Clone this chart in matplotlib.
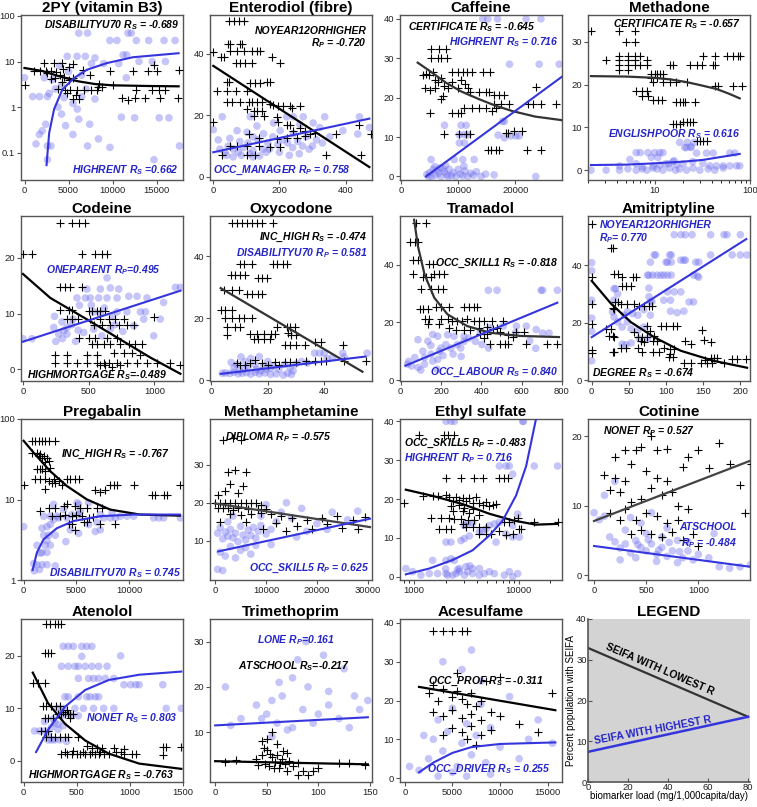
import matplotlib
matplotlib.use("Agg")
import matplotlib.pyplot as plt
from matplotlib.ticker import FormatStrFormatter, NullFormatter, NullLocator

plt.rcParams['font.family'] = ['Liberation Sans', 'DejaVu Sans']
plt.rcParams['mathtext.fontset'] = 'custom'
plt.rcParams['mathtext.it'] = 'Liberation Sans:bold:italic'
plt.rcParams['mathtext.rm'] = 'Liberation Sans:bold:italic'
plt.rcParams['mathtext.bf'] = 'Liberation Sans:bold:italic'

BLUE_DOT = '#6e6ef0'
BLUE_LINE = '#3535dd'
BLUE_TXT = '#2424c8'

# ---------------- data (x, y) ----------------
# 2PY (vitamin B3)
py2_blue = [(6160, 42), (7160, 42), (11750, 42), (12130, 42), (12700, 29), (14100, 29), (15850, 29), (17100, 29),
            (9700, 29), (10500, 29), (4850, 13), (5970, 13), (6900, 13), (8000, 12), (11200, 14), (11600, 14),
            (13000, 10), (14500, 10), (16000, 10), (10700, 9), (7600, 9), (9000, 9), (11560, 4.4), (0, 4.4),
            (2240, 4.4), (5000, 6), (6500, 5), (4200, 3), (3500, 2.5), (2800, 2), (930, 1.7), (1700, 1.7),
            (2600, 1.7), (4500, 1.6), (5500, 1.2), (6000, 0.9), (3800, 1.0), (4200, 0.7), (8000, 1.5), (7000, 2.5),
            (2400, 0.42), (1680, 0.25), (1300, 0.155), (2600, 0.14), (3000, 0.14), (4660, 0.39), (6160, 0.54),
            (7400, 0.42), (8400, 0.2), (5500, 0.25), (7160, 0.14), (9700, 0.13), (12500, 0.58), (15300, 0.58),
            (16400, 0.58), (17600, 0.14), (14700, 0.07), (2600, 0.07), (11000, 0.6), (6500, 1.7), (3200, 4),
            (4000, 8), (2000, 0.3)]
py2_black = [(0, 3.1), (1100, 6.1), (1800, 6.1), (2400, 6.1), (3000, 6.1), (3600, 5.8), (2200, 9.2), (3300, 9.2),
             (4200, 9.5), (5500, 9), (4400, 7), (5000, 7.5), (4000, 5), (4500, 4.5), (3500, 4.3), (5000, 4),
             (5500, 4.3), (4200, 3.5), (3800, 2.5), (4600, 2.4), (5200, 2.4), (6000, 2.4), (6700, 2.4), (7500, 2.4),
             (8200, 2.4), (4800, 2), (5800, 1.8), (6200, 1.5), (5500, 1.5), (6600, 6.6), (7400, 5), (8400, 2.8),
             (8800, 2.8), (3000, 4.2), (2600, 5.5), (9700, 6.1), (12300, 6.1), (14000, 6.1), (15100, 6.1),
             (17500, 6.6), (14500, 2.4), (15300, 2.4), (16000, 2.4), (12700, 2.4), (12500, 1.6), (11100, 1.6),
             (11700, 1.4), (13700, 1.6), (15400, 1.6), (17400, 1.6), (10000, 3), (8500, 3.2), (14700, 8.5)]
py2_kfit = [(0, 7.2), (2000, 6.2), (4000, 4.7), (6000, 3.7), (8000, 3.2), (10000, 3.0), (14000, 2.9), (17500, 2.85)]
py2_bfit = [(2500, 0.053), (2800, 0.27), (3360, 0.9), (4290, 2.4), (5600, 4.3), (7090, 6.6), (9330, 9.2),
            (12300, 12.4), (17500, 15.2)]

# Enterodiol (fibre)
ent_blue = [(0, 15.3), (27, 19.5), (112, 19.5), (222, 19.5), (242, 19.5), (272, 19.5), (337, 19.5), (442, 19.5),
            (472, 16), (437, 13.9), (302, 17.5), (322, 16), (262, 17), (182, 17.5), (132, 16.5), (72, 15),
            (102, 14.5), (152, 14), (202, 15), (242, 14), (282, 13), (312, 12), (352, 13), (392, 15), (20, 9),
            (35, 8), (45, 10), (60, 9), (75, 8), (90, 9.5), (105, 11), (120, 8.5), (135, 12), (150, 9), (165, 11),
            (180, 13), (195, 10.5), (210, 12), (225, 11), (240, 9.5), (255, 11.5), (270, 10), (290, 9), (40, 7),
            (60, 6.5), (85, 7), (110, 7.5), (140, 6.8), (160, 8), (200, 8), (230, 7), (15, 12), (50, 12.5),
            (80, 11.5), (120, 13), (170, 9), (300, 10), (260, 7.5), (330, 11), (120, 6.5)]
ent_black = [(47, 50.4), (62, 50.4), (77, 50.4), (92, 50.4), (44, 43.2), (50, 43.2), (82, 43.2), (88, 43.2),
             (0, 40.5), (22, 38.9), (32, 38.9), (52, 40.8), (72, 40.8), (92, 40.8), (117, 40.8), (132, 40.8),
             (142, 40.8), (177, 38.9), (70, 37), (82, 37), (97, 37), (117, 37), (202, 37), (12, 28), (42, 28),
             (70, 28), (102, 28), (40, 30.9), (47, 30.9), (112, 30.4), (127, 30.4), (142, 30.4), (162, 30.9),
             (172, 30.9), (42, 24.3), (57, 24.3), (82, 24.3), (107, 24.3), (117, 24.3), (132, 24.3), (147, 24.3),
             (172, 23.5), (182, 23.2), (197, 23), (212, 23), (232, 23), (262, 23), (237, 22.3), (102, 22),
             (122, 21.5), (132, 21.5), (147, 21.5), (122, 19.7), (152, 19.7), (192, 19.4), (197, 17.8), (222, 16.8),
             (232, 16.8), (242, 14.9), (262, 16), (277, 14.9), (292, 13.9), (307, 14.2), (372, 13.9), (442, 16.8),
             (477, 13.9), (0, 17.8), (107, 13.9), (137, 12.5), (192, 12.3), (52, 10), (72, 10), (102, 10),
             (137, 10), (172, 9.6), (202, 9.6), (27, 7), (102, 7), (127, 7), (342, 7), (447, 7), (222, 12.5),
             (252, 12.5), (277, 13.2)]
ent_kfit = [(0, 36), (472, 3.2)]
ent_bfit = [(0, 8), (472, 18.9)]

# Caffeine
caf_blue = [(14300, 40), (15200, 40), (16900, 40), (21900, 40), (24500, 40), (19000, 28.5), (24200, 28.5),
            (27700, 28.5), (7600, 13), (10500, 13), (11400, 13), (10200, 10.6), (11100, 10.6), (11700, 10.6),
            (10200, 8.5), (11100, 8.5), (17800, 14), (18100, 14), (18100, 9.8), (19200, 10.3), (20100, 10.3),
            (20700, 10.3), (17000, 10.5), (5250, 4.3), (9300, 4.3), (10800, 4.3), (12800, 4.3), (23600, 0),
            (16300, 0.4), (4500, 0.5), (5000, 1), (5300, 0), (5600, 1.8), (6000, 0.3), (6300, 1.5), (6600, 0.8),
            (7000, 0), (7300, 2), (7600, 1.2), (8000, 0.5), (8400, 1.8), (8800, 0.2), (9200, 1), (9600, 0),
            (10000, 1.8), (10400, 0.6), (10800, 0.2), (11200, 1.4), (11700, 0), (12200, 0.8), (12700, 0.3),
            (13200, 1.2), (14000, 0), (14800, 0.6), (6800, 2.2), (8200, 0), (11000, 2.6), (4800, 0), (7800, 2.8),
            (5900, 2.5)]
caf_black = [(3790, 25.8), (4960, 25.8), (5250, 32.3), (6700, 32.3), (7870, 32.3), (5250, 30), (6400, 30),
             (7000, 30), (8100, 30), (4400, 26), (5500, 26.5), (6000, 24.5), (6500, 24), (7000, 25), (7600, 23),
             (8200, 22.5), (9000, 26.5), (10000, 26.5), (10800, 26.5), (11500, 26.5), (12500, 26.5), (14400, 26.5),
             (15500, 26.5), (4100, 22.5), (5000, 22), (6000, 22.5), (7000, 19.6), (7300, 20.5), (9000, 24),
             (10500, 24.5), (11200, 23.6), (11800, 22.5), (9900, 22.5), (12000, 21.5), (13700, 21.5), (14800, 21.5),
             (15400, 21.5), (16300, 20.7), (17200, 20.7), (18100, 20.7), (9000, 16), (9900, 16), (10500, 16),
             (5000, 16), (11000, 17.3), (12500, 17.3), (13700, 17.3), (14900, 17.3), (16000, 16.6), (16700, 17.3),
             (17500, 18.3), (18900, 18.3), (22200, 18.3), (23100, 18.3), (24500, 18.3), (27100, 18.3), (7600, 10.8),
             (10200, 10.8), (11400, 10.8), (12000, 10.8), (18300, 11), (18700, 11), (19800, 11.5), (21200, 11.5),
             (15200, 6.8), (15800, 6.8), (16600, 6.8), (17100, 6.8), (22000, 6.8), (24500, 6.8), (23600, 22.7),
             (16300, 18.3)]
caf_kfit = [(2900, 28.9), (5000, 26.8), (7870, 23.8), (10500, 21.6), (13700, 19.6), (16500, 18), (19500, 16.6),
            (23500, 15.2), (28160, 14.3)]
caf_bfit = [(4370, 0), (28160, 25.3)]

# Methadone
met_blue = [(2.15, 0), (3.1, 0), (4.28, 0), (5.24, 0.3), (6.41, 0), (7.42, 0.3), (8.3, 0), (9.6, 0.5), (10.6, 0.3),
            (12.2, 0), (14.4, 0.5), (16.6, 0), (18.3, 0.3), (21.6, 0), (25.3, 0.5), (29.8, 0), (36.4, 0.3),
            (42.8, 0), (52.4, 0.5), (4.28, 1), (6.41, 1.5), (7.42, 0.8), (9.6, 1), (11.3, 1.2), (13, 1.5),
            (15.6, 2), (17, 1.3), (5.5, 2.5), (6.4, 4.1), (7.06, 4.1), (8.51, 4.1), (10, 4.1), (11.3, 4.1),
            (12.2, 4.1), (9.22, 3), (10.8, 3), (20.7, 5.3), (21.6, 5.3), (24, 5.3), (18.3, 6.5), (22, 6.5),
            (26, 6.5), (24, 5.5), (27.5, 4), (35, 4), (41.1, 4), (61.5, 4), (69.4, 4), (44.5, 1), (52.4, 1),
            (61.5, 1), (72.3, 1), (78, 1), (14, 1.5), (16, 2.2), (19.9, 1.5), (25, 2), (32, 1.6), (38, 1)]
met_black = [(2.15, 32.5), (4.21, 32.5), (6.16, 32.5), (5.03, 30), (6.16, 30), (3.1, 25.7), (4.21, 26.6),
             (4.21, 25.7), (5.24, 26.6), (6.16, 26.6), (7.06, 26.6), (5.24, 25.7), (6.16, 25.7), (8.3, 25.7),
             (4.21, 24.5), (5.24, 24.5), (6.16, 24.5), (7.06, 24.5), (8.3, 24.5), (4.21, 23.5), (5.24, 23.5),
             (9.22, 22.5), (10, 22.5), (10.6, 22.5), (11.3, 22.5), (12.2, 22.5), (9.22, 21.6), (10.6, 21.6),
             (12.2, 21.6), (9.6, 20.7), (12.2, 20.7), (14.4, 20.7), (16.6, 20.7), (6.41, 18.6), (7.42, 18.6),
             (8.3, 18.6), (7.42, 17.3), (8.51, 17.3), (9.6, 16.5), (10.8, 16.5), (11.8, 16.5), (14.4, 24.5),
             (15.6, 24.5), (16.9, 16), (18.3, 16), (19.9, 16), (20.7, 16), (26.3, 16), (23.4, 24.5), (27.5, 24.5),
             (31, 24.5), (32.3, 26.6), (42.8, 26.6), (41.1, 24.5), (42.8, 24.5), (42.8, 19.6), (46.4, 19.6),
             (56.8, 26.6), (66.7, 26.6), (75.3, 26.6), (78.4, 26.6), (66.7, 19.6), (81.6, 19.6), (15.6, 10.8),
             (16.9, 10.8), (18.3, 10.8), (19.9, 11.2), (21.6, 11.2), (23.4, 11.2), (25.3, 11.2), (27.5, 6.9),
             (29.8, 6.9), (32.3, 6.9), (35, 6.9), (21.6, 20.7)]
met_kfit = [(2.15, 22), (5, 21.9), (10, 21.6), (15, 21.2), (21.6, 20.6), (30, 19.9), (44.5, 19), (60, 17.9),
            (78, 16.8)]
met_bfit = [(2.15, 1.2), (5, 1.3), (10, 1.6), (20, 2), (32, 2.4), (50, 3.1), (78, 3.8)]

# Codeine
cod_blue = [(0, 5.5), (69, 5.5), (234, 7.5), (272, 6.3), (310, 6.9), (335, 7.5), (373, 8), (411, 12.8),
            (475, 12.8), (513, 12.8), (576, 12.8), (640, 12.8), (716, 12.8), (487, 14.4), (589, 14.4), (665, 14.6),
            (729, 14.4), (805, 13.1), (868, 13.1), (944, 12.8), (1160, 14.7), (1198, 14.7), (640, 16.4),
            (538, 10.3), (589, 10), (716, 10.3), (792, 10.3), (894, 10.3), (932, 10.3), (335, 6.3), (462, 6.6),
            (538, 7.2), (665, 7.2), (843, 7.8), (919, 9), (1045, 9), (995, 6), (297, 8.5), (380, 9), (420, 7),
            (600, 6), (700, 8), (760, 6.8), (430, 11.5), (520, 11.5), (620, 11), (680, 9.5), (1070, 12), (250, 5),
            (300, 5.5), (400, 5), (240, 9.5)]
cod_black = [(284, 26.3), (373, 26.3), (424, 26.3), (475, 26.3), (0, 20.7), (69, 20.7), (449, 20.7), (551, 20.7),
             (602, 20.7), (640, 20.7), (279, 14.7), (322, 14.7), (360, 14.7), (449, 14.7), (284, 10.7), (348, 10.7),
             (373, 10.7), (500, 10.5), (526, 10.5), (563, 10.5), (589, 10.5), (627, 10.5), (335, 9.1), (373, 9.1),
             (416, 9.1), (513, 9), (589, 9), (652, 9), (703, 9), (767, 9), (995, 9.4), (538, 8), (602, 8), (665, 8),
             (729, 8), (792, 8), (843, 7.9), (429, 5.7), (500, 5.7), (551, 5.7), (640, 5.7), (716, 5.7), (525, 4.5),
             (563, 4.5), (614, 4.5), (665, 4.5), (741, 4.5), (805, 4.5), (856, 4.5), (906, 4.5), (246, 2.6),
             (335, 2.6), (487, 2.6), (563, 2.6), (690, 3), (767, 3), (830, 3), (894, 2.6), (246, 1.2), (335, 1.2),
             (411, 1.2), (487, 1.2), (563, 1.2), (614, 1.2), (652, 1.2), (716, 1.2), (792, 1.2), (868, 1.2),
             (944, 1.2), (1020, 1.2), (1122, 1.2), (1198, 0.7), (589, 0.8), (627, 0.7), (680, 0.5), (740, 0.8)]
cod_kfit = [(0, 17.1), (208, 12.8), (462, 9.3), (716, 5.7), (970, 2.1), (1198, -0.8)]
cod_bfit = [(0, 4.95), (1198, 14.1)]

# Oxycodone
oxy_blue = [(3.9, 2.2), (5, 2.3), (6.5, 2.1), (8, 2.5), (9.5, 2), (11, 2.2), (12.5, 2.4), (14, 1.9), (15.5, 2.5),
            (17, 2), (19, 2.3), (21, 1.8), (23, 2), (25.5, 1.6), (27, 2.2), (28.4, 1.8), (7, 5.7), (9, 5),
            (10.5, 7.5), (12, 6), (14, 7), (15.5, 5), (17, 7.6), (18.5, 4.5), (20, 6), (8, 4), (11.5, 3.5),
            (13, 4.2), (16, 3.5), (19.5, 3.5), (22, 4.5), (24, 3.5), (26, 5), (28, 4), (30, 5.2), (32, 6),
            (34, 5.5), (36.6, 8.7), (38.4, 8.7), (40, 8.7), (46.6, 8.7), (55.3, 8.7), (47.1, 7.4), (41, 7),
            (43, 7.3), (10, 3), (17.5, 3), (21, 3.8), (29, 3)]
oxy_black = [(7.4, 50.7), (9, 50.7), (10.8, 50.7), (12.5, 50.7), (14.3, 50.7), (16.1, 50.7), (17.8, 50.7),
             (22, 50.7), (10.3, 37.6), (11.5, 37.6), (14.4, 37.6), (21.8, 37.6), (23.2, 37.6), (25.3, 37.6),
             (26.7, 37.6), (6.8, 34), (8.5, 34), (10.3, 34), (12, 34), (16.7, 33), (17.9, 33), (19.6, 33),
             (4.4, 29), (7.4, 29), (9.7, 29), (12.6, 27.8), (14.4, 27.8), (16.7, 27.8), (17.9, 27.8), (3.3, 22.6),
             (5, 22.6), (7.4, 22.6), (5, 19.9), (7.4, 19.9), (9.7, 19.9), (11.5, 19.9), (14.4, 19.9), (5.6, 17),
             (8.5, 17), (10.3, 17), (5.6, 14.5), (13.8, 15), (16.1, 15), (18.5, 15), (21, 15), (22.4, 15),
             (15, 13.4), (16.7, 13.4), (18.5, 13.4), (20.8, 13.4), (23.4, 17.2), (26.7, 17.2), (27.8, 17.2),
             (29.6, 17.2), (27.2, 15.2), (28.4, 14.7), (30.2, 14.7), (26.1, 11.2), (27.8, 11.2), (30.2, 11.2),
             (33.1, 11.2), (36.6, 12.3), (39, 12.3), (46.6, 11.2), (9.1, 5.5), (13.8, 5.5), (17.9, 5.5),
             (22.6, 5.7), (26.1, 5.7), (27.8, 5.7), (30.2, 5.7), (33.7, 6), (36.6, 6), (39, 6), (40.7, 6),
             (47.1, 6.3), (54.7, 6.3), (10.3, 4.8), (12, 4.8), (15.5, 6.5), (20, 5), (24, 5)]
oxy_kfit = [(3.3, 29.7), (53.6, 2.7)]
oxy_bfit = [(3.3, 2), (54.7, 7.6)]

# Tramadol
tra_blue = [(34, 5.5), (54, 4.9), (86, 4.4), (119, 5.5), (70, 7.8), (119, 7.8), (151, 9), (159, 6.6), (184, 7.2),
            (192, 10), (200, 11.1), (224, 12.3), (249, 11.1), (281, 12.3), (298, 11.1), (314, 13.4), (338, 14.5),
            (371, 13.4), (403, 12.3), (436, 11.1), (184, 15.2), (233, 15.7), (265, 15.2), (314, 15.2), (395, 16.7),
            (444, 18.1), (509, 18.7), (574, 18.7), (623, 18.7), (672, 17.5), (704, 16.3), (736, 16.3), (86, 14),
            (135, 13.5), (159, 15.8), (435, 31.1), (478, 31.1), (696, 31.1), (704, 31.1), (777, 31.1), (570, 16.4),
            (640, 13.6), (670, 11), (150, 12), (210, 8.5), (260, 9), (300, 8.2), (110, 10), (40, 6.5), (180, 3.8),
            (100, 3.5)]
tra_black = [(78, 54.4), (127, 54.4), (46, 47.8), (70, 47.8), (86, 47.8), (62, 41.7), (86, 41.7), (143, 40.2),
             (159, 40.2), (111, 35.6), (127, 35.6), (151, 35.6), (167, 36.8), (192, 36.8), (216, 36.8), (62, 36.8),
             (102, 31.7), (151, 31.7), (184, 31.7), (208, 31.7), (94, 24.5), (111, 24.5), (135, 24.5), (176, 25.3),
             (200, 25.3), (241, 25.3), (314, 25.3), (338, 25.3), (364, 25.3), (379, 25.3), (119, 21), (143, 21),
             (200, 21), (233, 21), (257, 20.5), (281, 20.5), (306, 20.5), (330, 21), (362, 20.5), (387, 20.5),
             (411, 20.5), (452, 20.5), (509, 20.5), (135, 19.3), (192, 19.3), (241, 18), (273, 17.2), (314, 17.2),
             (346, 17.2), (387, 18), (428, 18.5), (460, 17.7), (476, 18), (395, 15.9), (428, 15.9), (411, 14.7),
             (494, 16.6), (533, 15.5), (558, 14.9), (574, 16.6), (614, 16.6), (444, 12.6), (494, 12.4), (517, 12.4),
             (533, 12.4), (623, 12.4), (728, 12.6), (777, 12.6)]
tra_kfit = [(67, 55.5), (86, 46.3), (119, 36.5), (167, 28.5), (232, 22.8), (330, 18.7), (444, 16.4), (590, 15.3),
            (785, 14.9)]
tra_bfit = [(24, 5), (777, 26.8)]

# Amitriptyline
ami_blue = [(0, 40.8), (0, 38), (0, 27.8), (0, 21.6), (0, 17), (0, 6.8), (30, 31.8), (32, 31.8), (35, 30),
            (30, 27.8), (28, 23.8), (30, 22), (44, 22.6), (48, 23.8), (35, 20.3), (41, 18.5), (48, 20.3),
            (55, 23.2), (62, 22.6), (70, 24.5), (53, 17.9), (62, 17.3), (70, 18.5), (64, 14.5), (75, 14.5),
            (41, 12.6), (46, 12.4), (53, 13), (79, 22.6), (79, 27.3), (77, 32), (75, 36.5), (77, 36.5), (82, 36.5),
            (88, 36.5), (93, 36.5), (97, 36.5), (102, 36.5), (107, 36.5), (79, 41), (84, 43.5), (86, 43.5),
            (100, 41), (102, 41), (107, 41), (120, 41.7), (124, 41.7), (126, 41.7), (105, 43.5), (107, 43.5),
            (111, 50.5), (120, 50.5), (126, 50.5), (135, 50.5), (160, 50.5), (178, 50.5), (182, 50.5), (200, 50.5),
            (160, 43.5), (189, 43.5), (200, 43.5), (209, 43.5), (140, 41), (144, 41), (102, 30.7), (111, 30.7),
            (120, 30.7), (106, 24), (115, 23.5), (124, 24), (97, 27.8), (106, 27.8), (77, 29), (81, 27.3),
            (137, 36.5), (142, 36.2), (144, 35.8), (131, 27.2), (137, 27.2)]
ami_black = [(0, 54.4), (26, 45.9), (28, 45.9), (30, 36.9), (35, 36.9), (41, 36), (55, 36), (59, 36), (0, 36),
             (0, 26.4), (32, 27.2), (35, 27.2), (41, 32.6), (46, 32.6), (53, 32.6), (39, 26.4), (48, 26.4),
             (57, 26.4), (64, 25.7), (70, 25.7), (77, 25.7), (81, 25.7), (28, 25), (30, 24.6), (0, 19.4),
             (19, 17.9), (26, 17.9), (23, 15.5), (28, 15.5), (30, 15), (28, 9.7), (30, 9.7), (39, 11.4), (46, 11.4),
             (57, 16.8), (62, 15), (68, 15), (75, 15), (75, 19), (79, 17.3), (84, 15.5), (93, 19), (100, 19),
             (109, 19), (115, 19), (82, 13.8), (88, 13.8), (97, 11.4), (106, 10.8), (111, 10.8), (62, 11.4),
             (68, 9.7), (82, 9.7), (66, 13.8), (70, 13.2), (126, 13.8), (133, 12.5), (151, 14), (160, 13.4),
             (149, 17.5), (104, 8), (109, 8), (106, 9.2), (124, 6.2), (133, 6.2), (153, 7), (160, 7.9), (164, 7.9),
             (169, 7.9), (189, 7.3), (196, 7.3), (207, 7.3), (147, 6.2), (155, 6.2), (162, 6.2), (178, 6.2),
             (0, 10.5), (0, 9.4), (91, 9.7)]
ami_kfit = [(0, 34.5), (26, 26.6), (52.7, 20.2), (84, 15), (119.6, 10.3), (164, 6.8), (209, 4.4)]
ami_bfit = [(0, 15), (208, 49)]

# Pregabalin
pre_blue = [(0, 4.6), (950, 1.6), (1260, 1.55), (1740, 1.55), (2210, 1.55), (1580, 2.15), (1740, 2.2), (2210, 2.2),
            (1260, 2.7), (2050, 2.7), (2530, 2.7), (1900, 3.6), (2370, 3.6), (3000, 3.6), (1740, 4.4), (2210, 4.6),
            (2530, 4.9), (2840, 5.6), (3320, 5.9), (1900, 6.2), (2530, 6.2), (3160, 6.2), (4110, 5.9), (4580, 6.5),
            (5210, 6.5), (5370, 7.1), (5060, 9.1), (5210, 8.7), (6160, 9.1), (4420, 4.2), (5210, 3.8), (6790, 4.0),
            (7270, 4.2), (6160, 4.9), (6950, 5.2), (7580, 5.9), (8220, 5.9), (8690, 5.9), (9160, 6.2), (9800, 6.2),
            (10430, 6.2), (12320, 5.9), (12800, 5.9), (13270, 5.9), (14850, 5.9), (7270, 6.5), (8370, 6.8),
            (2840, 8.7), (3790, 7.5), (1000, 1.3), (1500, 1.35), (3000, 1.5), (4000, 3), (2200, 3.1)]
pre_black = [(790, 53.6), (1100, 53.6), (1420, 53.6), (1740, 53.6), (2050, 53.6), (2370, 53.6), (3000, 53.6),
             (790, 38.3), (1260, 38.3), (1580, 36.5), (1900, 35), (1420, 34.8), (1740, 33.2), (2210, 33.2),
             (2370, 30.2), (2000, 29), (1260, 23.7), (1520, 23.7), (1740, 23.7), (2050, 22.6), (2530, 24.8),
             (1100, 17.8), (1580, 17.8), (2050, 17.8), (2370, 17), (2840, 17.8), (3320, 17), (2690, 16.2),
             (3000, 16.2), (0, 15), (4110, 17.8), (4420, 17.8), (4900, 17.8), (5210, 17.8), (2050, 13.6),
             (3630, 15), (6790, 13.1), (7270, 12.5), (7740, 13.1), (8220, 15), (8530, 15), (8850, 15), (10430, 15),
             (12170, 11.5), (12480, 11.5), (13270, 11.5), (13590, 11.5), (14850, 15), (2370, 7.9), (3000, 7.9),
             (3790, 8.3), (4110, 8.7), (4900, 8.3), (5370, 7.9), (6000, 7.9), (6950, 7.9), (7430, 7.9), (1580, 7.1),
             (2690, 6.2), (3480, 6.2), (3950, 6.5), (4580, 6.2), (5530, 6.2), (6160, 5.9), (4270, 4.9), (4580, 4.9),
             (5690, 5.2), (6000, 5.2), (7270, 4.9), (8690, 4.9), (4900, 4.2), (6600, 6), (5000, 6.5)]
pre_kfit = [(0, 53.6), (940, 38.3), (2500, 22.6), (4100, 14.7), (6000, 10), (8200, 7.5), (11000, 6.5),
            (14800, 6.3)]
pre_bfit = [(850, 1.33), (1260, 2.2), (1890, 3.2), (3150, 4.4), (4720, 5.4), (7230, 6.2), (10400, 6.5),
            (14800, 6.5)]

# Methamphetamine
mam_blue = [(500, 12), (1000, 13.5), (1500, 10.5), (2000, 12.3), (2500, 11.2), (3000, 13), (3500, 10.8),
            (4000, 12), (4500, 9.8), (5000, 13.8), (5500, 11.5), (6000, 10.2), (6500, 12.8), (7000, 11.4),
            (7500, 13.5), (8000, 10.7), (8500, 12.5), (9000, 14), (10000, 11.8), (11000, 13), (12000, 15),
            (1000, 7), (2000, 6), (3000, 8.5), (4000, 5.5), (5000, 7.5), (6000, 8.2), (7000, 6.5), (8000, 8.8),
            (500, 2.5), (1500, 2.2), (13000, 17.5), (15000, 16), (17000, 18.5), (20000, 14.5), (23000, 17.5),
            (26000, 15.5), (28000, 17.8), (14000, 20), (10000, 19.5), (18000, 12.5), (22000, 13), (9000, 16.5),
            (3500, 16.5), (2500, 15), (11000, 9), (16000, 11)]
mam_black = [(1500, 36.5), (3500, 37), (5000, 36.5), (2500, 28), (4000, 28.5), (6000, 28), (3000, 25),
             (5500, 24.5), (0, 20), (1000, 20), (2000, 20), (3000, 20), (4000, 20), (5000, 20), (6000, 20),
             (7000, 19.8), (8000, 20), (9000, 19.5), (500, 18.5), (1500, 18.5), (2500, 18.6), (3500, 18.2),
             (4500, 18.5), (6500, 18.4), (8500, 18.3), (10000, 18.3), (3000, 17), (5000, 16.8), (7000, 17),
             (9000, 17.3), (11000, 17), (13000, 16.5), (15000, 16), (18000, 15.5), (21000, 16), (24000, 16.5),
             (27000, 15.5), (29500, 16.3), (16000, 13.8), (19000, 13), (22000, 14.5), (25000, 13.3), (28000, 13),
             (1000, 15), (6000, 15), (12000, 14.7), (14000, 12.5), (9500, 13), (500, 22), (2000, 23), (4500, 22.5)]
mam_kfit = [(0, 19.8), (30400, 13.6)]
mam_bfit = [(600, 7.2), (30400, 15.8)]

# Ethyl sulfate
eth_blue = [(2012, 40), (2246, 40), (2418, 40), (10932, 40), (11100, 40), (6532, 28.5), (7567, 28.5), (8145, 28.5),
            (14110, 28.5), (23570, 28.5), (8767, 26.4), (2012, 8.9), (2246, 8.9), (2801, 9.3), (3016, 9.8),
            (3368, 10.5), (4200, 11.5), (4520, 11.9), (4866, 12.3), (5238, 13.2), (5849, 13.6), (6532, 14),
            (3016, 13.2), (3246, 13.6), (3625, 13.8), (1498, 4.2), (2012, 4.2), (2246, 4.6), (2418, 4.2), (832, 2.1),
            (964, 1.3), (1158, 0.4), (1393, 0.8), (1673, 0.8), (2012, 0.8), (2087, 0.4), (2330, 0.4), (2508, 0.8),
            (2700, 1.3), (3016, 0.4), (3246, 1.3), (3625, 0.8), (4200, 0.4), (4690, 0.8), (5238, 1.3), (5849, 0.8),
            (7294, 0.4), (8145, 1.3), (9790, 0.8), (8767, 0), (2700, 2.1), (3129, 2.6), (3625, 2.1), (4200, 2.1),
            (9790, 16.1), (6068, 8.9), (7567, 11), (8767, 13.2), (8767, 10.2), (10157, 10.2), (2000, 2),
            (2600, 1.8), (3400, 2.8)]
eth_black = [(1117, 36.6), (1939, 36.6), (2087, 36.6), (2418, 36.6), (802, 19), (1202, 20.8), (1498, 20.8),
             (1673, 20.8), (2012, 25.5), (2801, 25.5), (3761, 25.5), (4520, 25.5), (6532, 25.5), (7294, 25.5),
             (7851, 25.5), (2012, 21), (2165, 20.4), (2330, 19.5), (2508, 20.5), (2700, 19.8), (2906, 20.2),
             (3129, 19.4), (3368, 20.3), (3625, 19), (3902, 20.6), (4200, 18.9), (4520, 18.5), (4866, 19.3),
             (5238, 18.2), (5638, 18.5), (2246, 18.2), (2700, 18.5), (3016, 17.6), (3625, 17.5), (1444, 15),
             (1802, 15), (2165, 15), (2418, 14.8), (2801, 14.8), (3246, 14.5), (3761, 14.5), (4200, 15.8),
             (2330, 16.8), (2906, 16.8), (3368, 16.5), (1737, 12.3), (2012, 12.3), (2246, 12.3), (2906, 13.5),
             (3129, 12.7), (3625, 12.7), (4200, 12.7), (4866, 12.7), (4200, 11), (4866, 11), (5434, 11),
             (6532, 11.8), (7567, 10.8), (8767, 11), (10157, 12.3), (10537, 12.3), (7294, 14), (8145, 14),
             (9095, 14.5), (9790, 15), (14110, 14), (23570, 14), (6068, 18.7)]
eth_kfit = [(830, 22.4), (1500, 20.8), (2900, 18.7), (5250, 16.2), (8760, 14.5), (14600, 13.4), (23600, 13.6)]
eth_bfit = [(830, 0.6), (1390, 2.1), (2330, 4.3), (3620, 6.8), (5240, 10.6), (7040, 14.5), (9440, 20.9),
            (11800, 28.5), (14600, 40.4)]

# Cotinine
cot_blue = [(0, 9), (50, 8), (100, 8.5), (150, 5.5), (200, 4.8), (250, 3.9), (300, 4.5), (350, 3.2), (400, 5),
            (450, 4), (500, 3.5), (550, 4.5), (600, 3), (650, 4), (700, 2.7), (750, 3.5), (800, 5), (850, 2.5),
            (900, 3.5), (950, 2.2), (1000, 3), (1100, 2.5), (1200, 1.2), (1300, 1), (1400, 1.2), (1500, 1.5),
            (300, 6.5), (500, 6), (700, 6.8), (400, 2.5), (600, 2), (800, 1.8), (250, 2.2), (450, 7.5), (650, 5.5),
            (350, 8.3), (550, 9), (1150, 6), (200, 13.5), (100, 11.5), (420, 4.4), (520, 5.1), (620, 3.6),
            (720, 4.7), (820, 3.4), (900, 4.8)]
cot_black = [(300, 18), (400, 18), (450, 18.5), (550, 20), (600, 18), (700, 18.2), (850, 15.6), (900, 17),
             (1000, 18), (1100, 15.5), (1300, 16), (1500, 16), (1200, 19), (100, 14.5), (200, 14), (300, 13.5),
             (150, 12.3), (250, 12), (350, 10.5), (450, 11), (550, 12.5), (650, 11.5), (750, 12), (300, 9.5),
             (400, 8), (500, 9), (600, 8.5), (700, 7.5), (800, 8), (900, 9.5), (350, 6), (450, 6.5), (550, 6),
             (650, 5.5), (750, 6.2), (850, 5), (950, 6), (1000, 4.2), (250, 8), (150, 9), (500, 15), (600, 14),
             (700, 13.5), (800, 10), (1400, 13), (1450, 9), (200, 17), (350, 16)]
cot_kfit = [(0, 7.8), (1500, 16.5)]
cot_bfit = [(0, 4.2), (1500, 1.2)]

# Atenolol
ate_blue = [(372, 21.8), (420, 21.8), (467, 21.8), (547, 21.8), (594, 21.8), (642, 21.8), (547, 19.9), (356, 18),
            (420, 18), (483, 18), (515, 18), (579, 18), (642, 18), (706, 18), (785, 18), (515, 15.7), (611, 15.7),
            (658, 15.7), (706, 15.7), (769, 15.7), (849, 15.7), (944, 14.5), (1007, 14.5), (1055, 14.5),
            (1087, 14.5), (1310, 14.5), (913, 20), (674, 12.2), (706, 12.2), (515, 12.2), (388, 12.2), (420, 12.2),
            (594, 12.2), (626, 12.2), (483, 10), (563, 10), (658, 10), (753, 10), (849, 10), (1342, 10),
            (1484, 10), (324, 10), (372, 10), (277, 8), (356, 8.6), (420, 9), (452, 8.6), (515, 8.6), (197, 7.5),
            (292, 7.2), (324, 7), (372, 6.7), (150, 5.7), (197, 5.7), (229, 5.2), (261, 6.4), (324, 6), (229, 4),
            (261, 4), (292, 4), (340, 4), (404, 3.7), (102, 5.7)]
ate_black = [(213, 26.1), (245, 26.1), (292, 26.1), (324, 26.1), (356, 26.1), (197, 20.5), (229, 20.5),
             (261, 20.5), (86, 14.8), (134, 14.8), (197, 14.8), (181, 10.4), (213, 10.4), (261, 10.4), (308, 10.4),
             (340, 10.4), (197, 8.1), (229, 8.1), (277, 8.1), (324, 9), (356, 9), (388, 9), (420, 9), (436, 9),
             (467, 9), (372, 9.3), (404, 9.6), (165, 5.7), (197, 5.7), (229, 5.7), (436, 8.1), (213, 4.6),
             (261, 4.6), (292, 4.6), (340, 4.6), (388, 4.6), (420, 4.6), (515, 4.6), (356, 1.4), (404, 1.4),
             (452, 1.4), (499, 1.4), (531, 1.4), (579, 1.4), (626, 1.4), (674, 1.4), (706, 1.4), (754, 1.4),
             (801, 1.4), (388, 1.7), (467, 1.9), (563, 1.7), (642, 1.7), (722, 1.7), (594, 2.8), (642, 2.5),
             (690, 2.5), (738, 2.5), (849, 2.5), (912, 1.8), (944, 2.2), (865, 1.7), (944, 1.4), (1024, 1.4),
             (1055, 1.4), (1310, 1.1), (1342, 2.7), (1484, 2.7), (1310, 2.7)]
ate_kfit = [(86, 16.8), (229, 11), (388, 7.1), (579, 3.9), (801, 1.4), (1087, -0.5), (1484, -1.5)]
ate_bfit = [(117, 1.7), (229, 5.9), (388, 10.3), (579, 13.5), (801, 15.4), (1087, 16.4), (1484, 17.0)]

# Trimethoprim
tri_blue = [(15, 11.5), (40, 16), (45, 13), (50, 14), (55, 17), (60, 12), (65, 18), (70, 10.5), (75, 22), (80, 26),
            (85, 15), (90, 20), (95, 12), (100, 14), (105, 27), (110, 16), (120, 13), (130, 11), (140, 15),
            (148, 17), (55, 9), (62, 21), (75, 11), (110, 19), (125, 24), (135, 18), (10, 20), (25, 13), (88, 30)]
tri_black = [(40, 4), (45, 5), (48, 3), (50, 6), (52, 2.5), (55, 4.5), (58, 3.5), (60, 5), (62, 2), (65, 4),
             (68, 3), (70, 5.5), (42, 2.8), (47, 6.5), (53, 5.2), (57, 2.2), (63, 3.2), (66, 5.8), (72, 3.6),
             (75, 2.6), (80, 3.2), (85, 1.5), (90, 0.5), (95, 1.5), (100, 2.2), (120, 3.3), (130, 3.2), (145, 2.8),
             (20, 3.8), (10, 3.5), (45, 8), (50, 8.5), (55, 10), (60, 7.5), (70, 1.5), (80, 0.5)]
tri_kfit = [(0, 3.6), (148, 2.9)]
tri_bfit = [(0, 11.5), (148, 13.3)]

# Acesulfame
ace_blue = [(500, 3), (1500, 2), (2500, 5), (3000, 10), (3500, 15), (4000, 7), (4500, 12), (5000, 18), (5500, 3),
            (6000, 9), (6500, 14), (7000, 6), (7500, 11), (8000, 19), (8500, 4), (9000, 13), (10000, 8),
            (11000, 21), (12000, 5), (13000, 10), (14000, 15), (15500, 9), (2000, 11), (6000, 28), (7000, 33),
            (8000, 25), (4000, 30), (9000, 1), (6500, 0.5), (5000, 1.5), (3500, 0.5)]
ace_black = [(3000, 38), (4000, 38), (5000, 38), (6000, 38), (6500, 38), (2500, 22), (3000, 24), (3500, 20),
             (4000, 23), (5000, 21), (5500, 22.5), (6000, 20.5), (6500, 19), (7000, 22), (7500, 18.5), (8000, 20),
             (3000, 17), (4000, 16), (5000, 17.5), (6000, 15.5), (7000, 16.5), (8000, 15), (9000, 17), (10000, 16),
             (5000, 13), (6000, 12), (7000, 13.5), (8000, 11), (9000, 12.5), (12000, 14), (14000, 12), (4000, 11),
             (6500, 10), (7500, 8.5), (5500, 27), (8500, 25), (10000, 26), (15500, 22)]
ace_kfit = [(1500, 23.5), (15800, 17.5)]
ace_bfit = [(1500, 1.5), (3000, 4), (5000, 6.5), (7000, 8), (10000, 8.8), (15800, 9.2)]

# legend panel
leg_low = [(0, 32.9), (80, 16)]
leg_high = [(0, 7.4), (80, 16)]

# ---------------- panel table ----------------
PANELS = [
    dict(title='2PY (vitamin B3)', blue=py2_blue, black=py2_black, kfit=py2_kfit, bfit=py2_bfit, kcol='#000000',
         ylog=True, xlim=(-400, 18000), ylim=(0.025, 105), xt=[0, 5000, 10000, 15000], yt=[0.1, 1, 10, 100],
         texts=[(0.98, 0.94, r'DISABILITYU70 $R_S$ = -0.689', 'k', 'right'),
                (0.97, 0.06, r'HIGHRENT $R_S$ =0.662', 'b', 'right')]),
    dict(title='Enterodiol (fibre)', blue=ent_blue, black=ent_black, kfit=ent_kfit, bfit=ent_bfit, kcol='#000000',
         xlim=(-10, 480), ylim=(-1, 52.5), xt=[0, 200, 400], yt=[0, 20, 40],
         texts=[(0.97, 0.905, 'NOYEAR12ORHIGHER', 'k', 'right'), (0.97, 0.83, r'$R_P$ = -0.720', 'k', 'right'),
                (0.02, 0.06, r'OCC_MANAGER $R_P$ = 0.758', 'b', 'left')]),
    dict(title='Caffeine', blue=caf_blue, black=caf_black, kfit=caf_kfit, bfit=caf_bfit, kcol='#333333',
         xlim=(-200, 28200), ylim=(-0.9, 41), xt=[0, 10000, 20000], yt=[0, 10, 20, 30, 40],
         texts=[(0.05, 0.925, r'CERTIFICATE $R_S$ = -0.645', 'k', 'left'),
                (0.98, 0.837, r'HIGHRENT $R_S$ = 0.716', 'b', 'right')]),
    dict(title='Methadone', blue=met_blue, black=met_black, kfit=met_kfit, bfit=met_bfit, kcol='#333333',
         xlog=True, xlim=(2, 100), ylim=(-2.3, 36.3), xt=[10, 100], yt=[0, 10, 20, 30],
         texts=[(0.94, 0.945, r'CERTIFICATE $R_S$ = -0.657', 'k', 'right'),
                (0.94, 0.278, r'ENGLISHPOOR $R_S$ = 0.616', 'b', 'right')]),
    dict(title='Codeine', blue=cod_blue, black=cod_black, kfit=cod_kfit, bfit=cod_bfit, kcol='#000000',
         xlim=(-15, 1218), ylim=(-2.1, 27.5), xt=[0, 500, 1000], yt=[0, 10, 20],
         texts=[(0.51, 0.67, r'ONEPARENT $R_P$=0.495', 'b', 'center'),
                (0.47, 0.036, r'HIGHMORTGAGE $R_S$=-0.489', 'k', 'center')]),
    dict(title='Oxycodone', blue=oxy_blue, black=oxy_black, kfit=oxy_kfit, bfit=oxy_bfit, kcol='#333333',
         xlim=(-0.5, 57), ylim=(-0.3, 53), xt=[0, 20, 40], yt=[0, 20, 40],
         texts=[(0.97, 0.873, r'INC_HIGH $R_S$ = -0.474', 'k', 'right'),
                (0.97, 0.775, r'DISABILITYU70 $R_P$ = 0.581', 'b', 'right')]),
    dict(title='Tramadol', blue=tra_blue, black=tra_black, kfit=tra_kfit, bfit=tra_bfit, kcol='#333333',
         xlim=(-3, 800), ylim=(-0.3, 56.8), xt=[0, 200, 400, 600, 800], yt=[0, 20, 40],
         texts=[(0.98, 0.71, r'OCC_SKILL1 $R_S$ = -0.818', 'k', 'right'),
                (0.98, 0.05, r'OCC_LABOUR $R_S$ = 0.840', 'b', 'right')]),
    dict(title='Amitriptyline', blue=ami_blue, black=ami_black, kfit=ami_kfit, bfit=ami_bfit, kcol='#000000',
         xlim=(-5, 213), ylim=(-0.2, 57), xt=[0, 50, 100, 150, 200], yt=[0, 20, 40],
         texts=[(0.07, 0.945, 'NOYEAR12ORHIGHER', 'b', 'left'), (0.07, 0.864, r'$R_P$= 0.770', 'b', 'left'),
                (0.025, 0.045, r'DEGREE $R_S$ = -0.674', 'k', 'left')]),
    dict(title='Pregabalin', blue=pre_blue, black=pre_black, kfit=pre_kfit, bfit=pre_bfit, kcol='#000000',
         ylog=True, xlim=(-250, 15100), ylim=(1, 100), xt=[0, 5000, 10000], yt=[1, 10, 100],
         texts=[(0.58, 0.78, r'INC_HIGH $R_S$ = -0.767', 'k', 'center'),
                (0.99, 0.04, r'DISABILITYU70 $R_S$ = 0.745', 'b', 'right')]),
    dict(title='Methamphetamine', blue=mam_blue, black=mam_black, kfit=mam_kfit, bfit=mam_bfit, kcol='#444444',
         xlim=(-1000, 30800), ylim=(-0.3, 42), xt=[0, 10000, 20000, 30000], yt=[10, 20, 30],
         texts=[(0.09, 0.89, r'DIPLOMA $R_P$ = -0.575', 'k', 'left'),
                (0.98, 0.075, r'OCC_SKILL5 $R_P$ = 0.625', 'b', 'right')]),
    dict(title='Ethyl sulfate', blue=eth_blue, black=eth_black, kfit=eth_kfit, bfit=eth_bfit, kcol='#000000',
         xlog=True, xlim=(730, 26000), ylim=(-0.85, 40.6), xt=[1000, 10000], yt=[0, 10, 20, 30, 40],
         texts=[(0.027, 0.85, r'OCC_SKILL5 $R_P$ = -0.483', 'k', 'left'),
                (0.027, 0.755, r'HIGHRENT $R_P$ = 0.716', 'b', 'left')]),
    dict(title='Cotinine', blue=cot_blue, black=cot_black, kfit=cot_kfit, bfit=cot_bfit, kcol='#444444',
         xlim=(-58, 1495), ylim=(-0.7, 22.5), xt=[0, 500, 1000], yt=[0, 10, 20],
         texts=[(0.09, 0.925, r'NONET $R_P$ = 0.527', 'k', 'left'), (0.92, 0.33, 'ATSCHOOL', 'b', 'right'),
                (0.92, 0.23, r'$R_P$ = -0.484', 'b', 'right')]),
    dict(title='Atenolol', blue=ate_blue, black=ate_black, kfit=ate_kfit, bfit=ate_bfit, kcol='#000000',
         xlim=(-25, 1495), ylim=(-4, 27), xt=[0, 500, 1000, 1500], yt=[0, 10, 20],
         texts=[(0.967, 0.39, r'NONET $R_S$ = 0.803', 'b', 'right'),
                (0.49, 0.04, r'HIGHMORTGAGE $R_S$ = -0.763', 'k', 'center')]),
    dict(title='Trimethoprim', blue=tri_blue, black=tri_black, kfit=tri_kfit, bfit=tri_bfit, kcol='#000000',
         xlim=(-5, 152), ylim=(-1, 35), xt=[0, 50, 100, 150], yt=[10, 20, 30],
         texts=[(0.53, 0.87, r'LONE $R_P$=0.161', 'b', 'center'),
                (0.52, 0.71, r'ATSCHOOL $R_S$=-0.217', 'k', 'center')]),
    dict(title='Acesulfame', blue=ace_blue, black=ace_black, kfit=ace_kfit, bfit=ace_bfit, kcol='#000000',
         xlim=(-500, 16500), ylim=(-1, 41), xt=[0, 5000, 10000, 15000], yt=[0, 10, 20, 30, 40],
         texts=[(0.53, 0.62, r'OCC_PROF $R_S$ = -0.311', 'k', 'center'),
                (0.55, 0.075, r'OCC_DRIVER $R_S$ = 0.255', 'b', 'center')]),
]

# axes boxes in pixels: left, top, width, height
W, H = 757, 807
COL_LEFT = [21, 210, 400, 588]
ROW_TOP = [15, 216, 419, 619]
ROW_H = [165, 165, 161, 163]
AX_W = 162


def box(r, c):
    return [COL_LEFT[c] / W, 1 - (ROW_TOP[r] + ROW_H[r]) / H, AX_W / W, ROW_H[r] / H]


def style(ax):
    for s in ax.spines.values():
        s.set_color('#555555')
        s.set_linewidth(1.0)
    ax.tick_params(direction='out', length=3, width=0.8, color='#555555', labelsize=6.8,
                   labelcolor='#222222', pad=1.2)


def draw(ax, p):
    bx, by = zip(*p['blue'])
    ax.scatter(bx, by, s=30, color=BLUE_DOT, alpha=0.4, edgecolors='none', zorder=2)
    kx, ky = zip(*p['black'])
    ax.scatter(kx, ky, s=28, marker='+', color='black', linewidths=0.8, zorder=3)
    fx, fy = zip(*p['kfit'])
    ax.plot(fx, fy, color=p['kcol'], lw=1.6, zorder=4)
    fx, fy = zip(*p['bfit'])
    ax.plot(fx, fy, color=BLUE_LINE, lw=1.5, zorder=4)
    if p.get('xlog'):
        ax.set_xscale('log')
        ax.xaxis.set_minor_formatter(NullFormatter())
    if p.get('ylog'):
        ax.set_yscale('log')
        ax.yaxis.set_minor_locator(NullLocator())
    ax.set_xlim(*p['xlim'])
    ax.set_ylim(*p['ylim'])
    ax.set_xticks(p['xt'])
    ax.set_yticks(p['yt'])
    ax.xaxis.set_major_formatter(FormatStrFormatter('%g'))
    ax.yaxis.set_major_formatter(FormatStrFormatter('%g'))
    ax.set_title(p['title'], fontsize=11, fontweight='bold', pad=2)
    for tx, ty, s, c, ha in p['texts']:
        ax.text(tx, ty, s, transform=ax.transAxes, ha=ha, va='center', fontsize=7.5,
                fontweight='bold', style='italic', color=BLUE_TXT if c == 'b' else 'black', zorder=5)
    style(ax)


fig = plt.figure(figsize=(W / 100, H / 100), dpi=100)
for i, p in enumerate(PANELS):
    ax = fig.add_axes(box(i // 4, i % 4))
    draw(ax, p)

# legend panel
ax = fig.add_axes(box(3, 3))
ax.set_facecolor('#d3d3d3')
lx, ly = zip(*leg_low)
ax.plot(lx, ly, color='#333333', lw=1.6)
hx, hy = zip(*leg_high)
ax.plot(hx, hy, color=BLUE_LINE, lw=1.8)
ax.set_xlim(0, 81)
ax.set_ylim(0, 40)
ax.set_xticks([0, 20, 40, 60, 80])
ax.set_yticks([0, 10, 20, 30, 40])
ax.text(36, 27.7, 'SEIFA WITH LOWEST R', rotation=-11.9, transform_rotates_text=True,
        rotation_mode='anchor', ha='center', va='center', fontsize=7.5, fontweight='bold', color='black')
ax.text(32.4, 12.6, 'SEIFA WITH HIGHEST R', rotation=5.2, transform_rotates_text=True,
        rotation_mode='anchor', ha='center', va='center', fontsize=7.5, fontweight='bold', color=BLUE_TXT)
ax.set_title('LEGEND', fontsize=11, fontweight='bold', pad=2)
ax.set_xlabel('biomarker load (mg/1,000capita/day)', fontsize=7, labelpad=-1)
ax.set_ylabel('Percent population with SEIFA', fontsize=7, labelpad=0)
for s in ['top', 'right']:
    ax.spines[s].set_visible(False)
for s in ['left', 'bottom']:
    ax.spines[s].set_color('#555555')
    ax.spines[s].set_linewidth(1.2)
ax.tick_params(direction='in', length=3, width=0.8, color='#555555', labelsize=6.8, labelcolor='#222222', pad=1)

fig.savefig('out.png', dpi=100)
